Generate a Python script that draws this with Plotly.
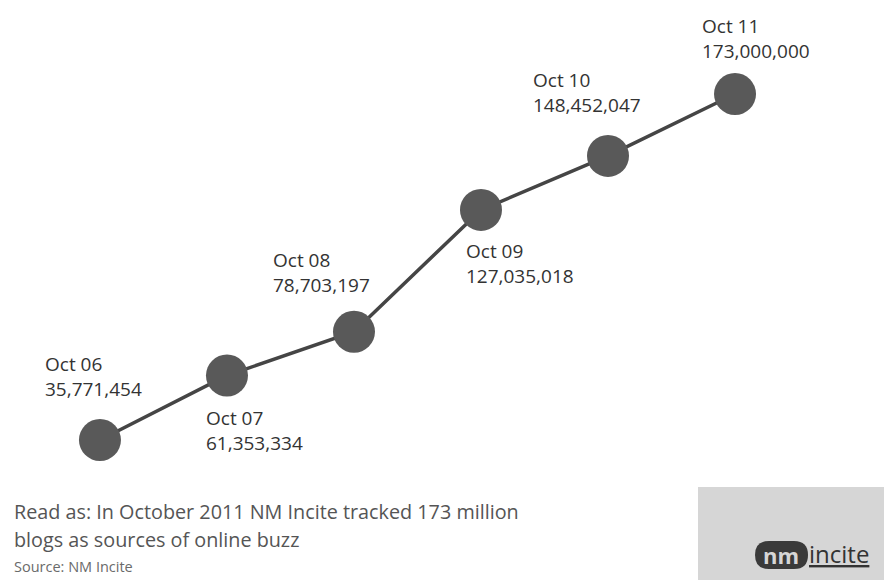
import plotly.graph_objects as go

# Blogs tracked by NM Incite, October of each year
periods = ["Oct 06", "Oct 07", "Oct 08", "Oct 09", "Oct 10", "Oct 11"]
blogs = [35771454, 61353334, 78703197, 127035018, 148452047, 173000000]

# label offsets (pixels) relative to each point
label_dx = [-57, -23, -83, -17, -77, -35]
label_dy = [63, -55, 59, -54, 63, 55]

FONT = "Open Sans"
W, H = 884, 580

fig = go.Figure()
fig.add_trace(go.Scatter(
    x=list(range(len(blogs))), y=blogs, mode="lines+markers",
    line=dict(color="#454545", width=3.5),
    marker=dict(size=42, color="#595959", line=dict(width=0)),
    hoverinfo="skip", showlegend=False,
))

annotations = []
for i, (v, p, dx, dy) in enumerate(zip(blogs, periods, label_dx, label_dy)):
    annotations.append(dict(
        x=i, y=v, xref="x", yref="y", showarrow=False,
        text=f"{p}<br>{v:,}", xanchor="left", yanchor="middle", align="left",
        xshift=dx, yshift=dy,
        font=dict(family=FONT, size=19, color="#333333"),
    ))


def px(x):
    return x / W


def py(y):
    return 1 - y / H


annotations += [
    dict(x=px(12), y=py(511), xref="paper", yref="paper", showarrow=False,
         xanchor="left", yanchor="middle", align="left",
         text="Read as: In October 2011 NM Incite tracked 173 million",
         font=dict(family=FONT, size=19.8, color="#555555")),
    dict(x=px(12), y=py(539), xref="paper", yref="paper", showarrow=False,
         xanchor="left", yanchor="middle", align="left",
         text="blogs as sources of online buzz",
         font=dict(family=FONT, size=19.8, color="#555555")),
    dict(x=px(12), y=py(566), xref="paper", yref="paper", showarrow=False,
         xanchor="left", yanchor="middle", align="left",
         text="Source: NM Incite",
         font=dict(family=FONT, size=14.5, color="#6a6a6a")),
    # logo wordmark
    dict(x=px(781), y=py(555), xref="paper", yref="paper", showarrow=False,
         xanchor="center", yanchor="middle",
         text="<b>nm</b>",
         font=dict(family=FONT, size=22, color="#d6d6d6")),
    dict(x=px(807), y=py(553), xref="paper", yref="paper", showarrow=False,
         xanchor="left", yanchor="middle",
         text="<u>incite</u>",
         font=dict(family=FONT, size=24, color="#333333")),
]

fig.update_layout(
    width=W, height=H,
    margin=dict(l=0, r=0, t=0, b=0),
    paper_bgcolor="white", plot_bgcolor="white",
    xaxis=dict(range=[-0.787, 6.173], visible=False),
    yaxis=dict(range=[-19.76e6, 210.28e6], visible=False),
    annotations=annotations,
    shapes=[
        dict(type="rect", xref="paper", yref="paper",
             x0=px(698), x1=1, y0=0, y1=py(487),
             fillcolor="#d6d6d6", line=dict(width=0), layer="below"),
        dict(type="path", xref="paper", yref="paper",
             path=(f"M {px(769)},{py(541)} L {px(794)},{py(541)} "
                   f"Q {px(808)},{py(541)} {px(808)},{py(555)} "
                   f"Q {px(808)},{py(569)} {px(794)},{py(569)} "
                   f"L {px(769)},{py(569)} "
                   f"Q {px(755)},{py(569)} {px(755)},{py(555)} "
                   f"Q {px(755)},{py(541)} {px(769)},{py(541)} Z"),
             fillcolor="#3a3a3a", line=dict(width=0), layer="below"),
    ],
)

fig.write_html("out.html")
